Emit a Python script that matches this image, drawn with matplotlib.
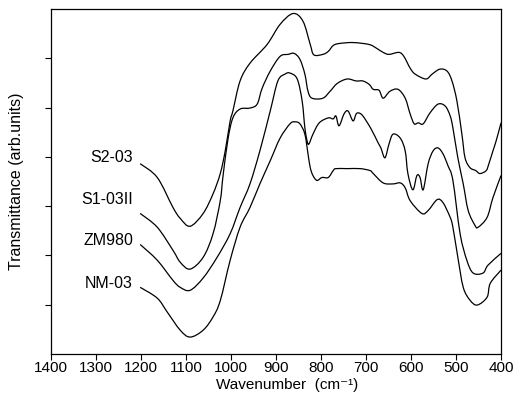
import matplotlib
matplotlib.use("Agg")
import matplotlib.pyplot as plt
import numpy as np
from matplotlib.path import Path
from matplotlib.patches import PathPatch

plt.rcParams['font.family'] = ['Liberation Sans', 'DejaVu Sans']

# spectra: wavenumber (cm-1) and offset transmittance (arb.)
s2_wn = [1202, 1164, 1129, 1113, 1091, 1062, 1040, 1024, 1013, 1002, 996, 980, 958, 920,
         891, 862, 840, 824, 816, 796, 784, 773, 760, 729, 693, 676, 662, 649, 627, 616,
         602, 591, 567, 553, 536, 520, 509, 498, 487, 480, 469, 456, 447, 433, 427, 418,
         411, 400]
s2_y = [3.86, 3.58, 2.97, 2.75, 2.59, 2.85, 3.25, 3.66, 4.12, 4.73, 4.93, 5.54, 5.90, 6.28,
        6.69, 6.91, 6.75, 6.28, 6.07, 6.08, 6.14, 6.26, 6.30, 6.32, 6.28, 6.20, 6.12, 6.08,
        6.12, 6.04, 5.80, 5.68, 5.58, 5.68, 5.78, 5.74, 5.54, 5.13, 4.46, 3.98, 3.78, 3.72,
        3.66, 3.72, 3.86, 4.12, 4.32, 4.69]

s1_wn = [1202, 1164, 1129, 1113, 1091, 1062, 1040, 1024, 1018, 1007, 996, 980, 958, 942,
         931, 913, 891, 873, 860, 847, 836, 829, 820, 796, 780, 764, 742, 722, 707, 693,
         684, 671, 662, 647, 629, 613, 602, 593, 584, 573, 558, 540, 524, 513, 507, 496,
         484, 473, 458, 451, 431, 418, 400]
s1_y = [2.85, 2.57, 2.10, 1.86, 1.72, 1.96, 2.44, 3.11, 3.60, 4.35, 4.79, 4.97, 4.99, 5.07,
        5.39, 5.74, 6.04, 6.08, 6.10, 5.98, 5.68, 5.33, 5.19, 5.19, 5.33, 5.49, 5.58, 5.54,
        5.54, 5.47, 5.37, 5.35, 5.19, 5.33, 5.37, 5.19, 4.87, 4.67, 4.69, 4.67, 4.89, 5.07,
        5.03, 4.83, 4.59, 3.98, 3.45, 2.91, 2.61, 2.57, 2.77, 3.17, 3.62]

zm_wn = [1202, 1164, 1129, 1113, 1091, 1062, 1031, 1002, 980, 958, 936, 913, 896, 880,
         869, 853, 842, 836, 831, 827, 818, 804, 784, 773, 767, 760, 749, 740, 729, 722,
         716, 707, 689, 673, 667, 658, 649, 640, 624, 613, 607, 596, 587, 580, 573, 562,
         551, 540, 529, 518, 507, 491, 476, 462, 440, 429, 400]
zm_y = [2.22, 1.90, 1.49, 1.35, 1.29, 1.54, 1.96, 2.44, 2.97, 3.45, 4.12, 4.93, 5.54, 5.68,
        5.70, 5.58, 5.13, 4.59, 4.32, 4.26, 4.46, 4.69, 4.79, 4.77, 4.83, 4.63, 4.87, 4.93,
        4.73, 4.87, 4.89, 4.83, 4.57, 4.28, 4.18, 3.98, 4.26, 4.46, 4.38, 4.12, 3.66, 3.33,
        3.62, 3.58, 3.33, 3.86, 4.12, 4.18, 4.06, 3.82, 3.52, 2.44, 1.90, 1.64, 1.64, 1.80,
        2.04]

nm_wn = [1202, 1164, 1142, 1113, 1091, 1062, 1040, 1024, 1002, 980, 958, 936,
         913, 891, 869, 858, 847, 836, 829, 824, 818, 809, 798, 784, 773, 767, 742, 713,
         691, 684, 662, 640, 624, 613, 602, 576, 562, 542, 529, 513, 507, 496, 484, 469,
         453, 431, 424, 400]
nm_y = [1.35, 1.13, 0.85, 0.48, 0.34, 0.48, 0.75, 1.08, 1.90, 2.57, 2.97, 3.45,
        3.92, 4.38, 4.67, 4.71, 4.67, 4.46, 4.06, 3.78, 3.62, 3.52, 3.58, 3.58, 3.72, 3.76,
        3.76, 3.76, 3.72, 3.66, 3.47, 3.45, 3.47, 3.37, 3.11, 2.85, 2.91, 3.13, 3.07, 2.77,
        2.57, 1.96, 1.35, 1.09, 0.99, 1.15, 1.43, 1.70]

labels = ['S2-03', 'S1-03II', 'ZM980', 'NM-03']
label_y = [3.98, 3.13, 2.30, 1.43]
x_ticks = list(range(1400, 399, -100))


def smooth_path(x, y):
    # draw a smooth (Catmull-Rom style) bezier line through the read points
    p = np.column_stack([x, y]).astype(float)
    ext = np.vstack([p[0], p, p[-1]])
    verts = [p[0]]
    codes = [Path.MOVETO]
    for i in range(len(p) - 1):
        p0, p1, p2, p3 = ext[i], ext[i + 1], ext[i + 2], ext[i + 3]
        verts += [p1 + (p2 - p0) / 6, p2 - (p3 - p1) / 6, p2]
        codes += [Path.CURVE4] * 3
    return Path(verts, codes)


fig = plt.figure(figsize=(5.16, 3.94), dpi=100)
ax = fig.add_axes([0.099, 0.102, 0.872, 0.875])

for wn, y in [(s2_wn, s2_y), (s1_wn, s1_y), (zm_wn, zm_y), (nm_wn, nm_y)]:
    ax.add_patch(PathPatch(smooth_path(wn, y), fill=False, edgecolor='black', lw=0.9))

for name, ly in zip(labels, label_y):
    ax.text(1218, ly, name, ha='right', va='center', fontsize=11.5)

ax.set_xlim(1400, 400)
ax.set_ylim(0, 7)
ax.set_xticks(x_ticks)
ax.set_yticks([1, 2, 3, 4, 5, 6])
ax.set_yticklabels([])
ax.tick_params(axis='both', direction='out', length=4, width=0.8, labelsize=11, pad=1.5)
for s in ax.spines.values():
    s.set_linewidth(0.9)

ax.set_xlabel('Wavenumber  (cm\u207b\u00b9)', fontsize=11, va='baseline')
ax.xaxis.set_label_coords(0.524, -0.102)
ax.set_ylabel('Transmittance (arb.units)', fontsize=11.5, labelpad=14)

fig.savefig('out.png', dpi=100)
